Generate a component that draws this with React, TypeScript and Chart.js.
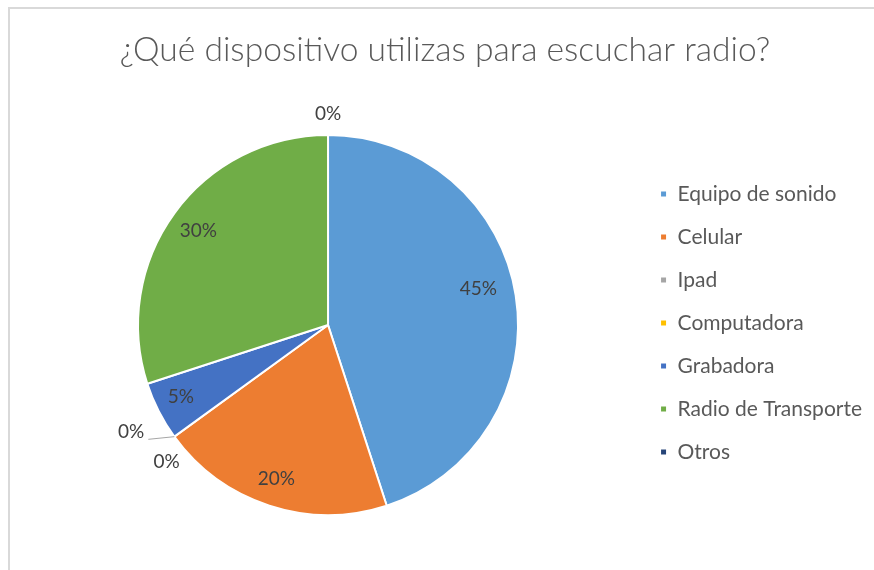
import React, { useEffect, useRef } from "react";
import { Chart, registerables } from "chart.js";

Chart.register(...registerables);

const categories = [
  "Equipo de sonido",
  "Celular",
  "Ipad",
  "Computadora",
  "Grabadora",
  "Radio de Transporte",
  "Otros",
];
const percentages = [45, 20, 0, 0, 5, 30, 0];
const titleText = "¿Qué dispositivo utilizas para escuchar radio?";

const sliceColors = ["#5B9BD5", "#ED7D31", "#A5A5A5", "#FFC000", "#4472C4", "#70AD47", "#264478"];
// label placement style (radial factor of radius, angular nudge in degrees, leader line)
const labelRadial = [0.813, 0.856, 1.18, 1.115, 0.862, 0.843, 1.11];
const labelNudgeDeg = [-4.4, 0.5, 7.4, -4.4, 1, 0, 0];
const labelLeader = [false, false, true, false, false, false, false];

const FONT = "Lato, 'Open Sans', sans-serif";

const framePlugin = {
  id: "frame",
  beforeDraw(chart: any) {
    const ctx = chart.ctx;
    ctx.save();
    ctx.fillStyle = "#ffffff";
    ctx.fillRect(0, 0, chart.width, chart.height);
    ctx.strokeStyle = "#D9D9D9";
    ctx.lineWidth = 2;
    ctx.beginPath();
    ctx.moveTo(9, chart.height);
    ctx.lineTo(9, 8);
    ctx.lineTo(chart.width, 8);
    ctx.stroke();
    ctx.restore();
  },
};

const labelPlugin = {
  id: "sliceLabels",
  afterDatasetsDraw(chart: any) {
    const ctx = chart.ctx;
    const meta = chart.getDatasetMeta(0);
    const values = chart.data.datasets[0].data;
    ctx.save();
    ctx.font = `19px ${FONT}`;
    ctx.fillStyle = "#404040";
    ctx.textAlign = "center";
    ctx.textBaseline = "middle";
    meta.data.forEach((arc: any, i: number) => {
      const p = arc.getProps(["x", "y", "startAngle", "endAngle", "outerRadius"], true);
      const mid = (p.startAngle + p.endAngle) / 2;
      const a = mid + (labelNudgeDeg[i] * Math.PI) / 180;
      const rr = p.outerRadius * labelRadial[i];
      const lx = p.x + Math.cos(a) * rr;
      const ly = p.y + Math.sin(a) * rr;
      const text = `${values[i]}%`;
      ctx.fillText(text, lx, ly);
      if (labelLeader[i]) {
        const w = ctx.measureText(text).width;
        ctx.strokeStyle = "#A6A6A6";
        ctx.lineWidth = 1;
        ctx.beginPath();
        ctx.moveTo(lx + w / 2 + 4, ly + 7);
        ctx.lineTo(p.x + Math.cos(mid) * p.outerRadius, p.y + Math.sin(mid) * p.outerRadius);
        ctx.stroke();
      }
    });
    ctx.restore();
  },
};

export default function App() {
  const ref = useRef<HTMLCanvasElement>(null);
  useEffect(() => {
    document.body.style.margin = "0";
    const chart = new Chart(ref.current!, {
      type: "pie",
      data: {
        labels: categories,
        datasets: [
          {
            data: percentages,
            backgroundColor: sliceColors,
            borderColor: "#ffffff",
            borderWidth: 2,
          },
        ],
      },
      options: {
        responsive: false,
        animation: false,
        layout: { padding: { left: 18, right: 2, top: 0, bottom: 54 } },
        plugins: {
          title: {
            display: true,
            text: titleText,
            color: "#595959",
            font: { family: FONT, size: 33.6, weight: "300" },
            padding: { top: 29.8, bottom: 63.9 },
          },
          legend: {
            position: "right",
            align: "center",
            title: {
              display: true,
              text: " ",
              font: { size: 10 },
              padding: { top: 118, bottom: 0 },
            },
            labels: {
              boxWidth: 7,
              boxHeight: 7,
              padding: 22,
              color: "#595959",
              font: { family: FONT, size: 21 },
            },
          },
          tooltip: { enabled: false },
        },
      },
      plugins: [framePlugin, labelPlugin],
    });
    return () => chart.destroy();
  }, []);
  return (
    <div style={{ position: "absolute", left: 0, top: 0, width: 874, height: 570 }}>
      <canvas ref={ref} width={874} height={570} />
    </div>
  );
}
